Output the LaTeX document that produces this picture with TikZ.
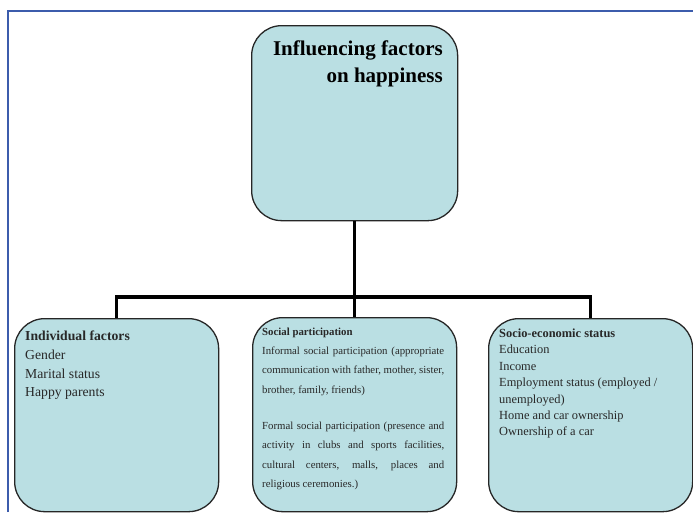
\documentclass[tikz,border=0pt]{standalone}
\usepackage{fontspec}
\setmainfont{Liberation Serif}
\definecolor{boxfill}{RGB}{186,223,227}
\definecolor{framecol}{RGB}{60,92,172}
\definecolor{txtgray}{RGB}{40,40,40}
\tikzset{
  box/.style={draw=black!85, line width=1.3pt, fill=boxfill, rounded corners=30pt, anchor=north west, inner sep=0pt},
  conn/.style={draw=black, line width=3.5pt},
  boxtext/.style={anchor=north west, inner sep=0pt, align=left, text=txtgray},
}
\begin{document}
\begin{tikzpicture}[x=1pt,y=-1pt]
\useasboundingbox (0,0) rectangle (693,512);
% frame
\draw[framecol, line width=1.5pt] (8,512) -- (8,11) -- (693,11);
% boxes
\node[box, minimum width=206pt, minimum height=195pt] (top) at (251,25) {};
\node[box, minimum width=204pt, minimum height=193pt] (left) at (14,318) {};
\node[box, minimum width=204pt, minimum height=194pt] (mid) at (252,317) {};
\node[box, minimum width=204pt, minimum height=193pt] (right) at (488,318) {};
% connectors
\draw[conn] (top.south) -- (mid.north);
\draw[conn] (left.north) -- ++(0,-21) -| (right.north);
% texts
\node[anchor=north east, inner sep=0pt, align=right, font=\fontsize{21}{27}\selectfont\bfseries] (ttl) at (443,40.5) {Influencing factors\\on happiness};
\node[boxtext, font=\fontsize{13.7}{18.6}\selectfont] (lt) at (25,331) {\textbf{Individual factors}\\Gender\\Marital status\\Happy parents};
\node[boxtext, font=\fontsize{10.8}{19.3}\selectfont] (mt) at (262,327.6) {\textbf{Social participation}\\
\makebox[182pt][s]{Informal social participation (appropriate}\\
\makebox[182pt][s]{communication with father, mother, sister,}\\
brother, family, friends)\\[17pt]
\makebox[182pt][s]{Formal social participation (presence and}\\
\makebox[182pt][s]{activity in clubs and sports facilities,}\\
\makebox[182pt][s]{cultural centers, malls, places and}\\
religious ceremonies.)};
\node[boxtext, font=\fontsize{12.4}{16.4}\selectfont] (rt) at (499,328.6) {\textbf{Socio-economic status}\\Education\\Income\\Employment status (employed /\\unemployed)\\Home and car ownership\\Ownership of a car};
\end{tikzpicture}
\end{document}
